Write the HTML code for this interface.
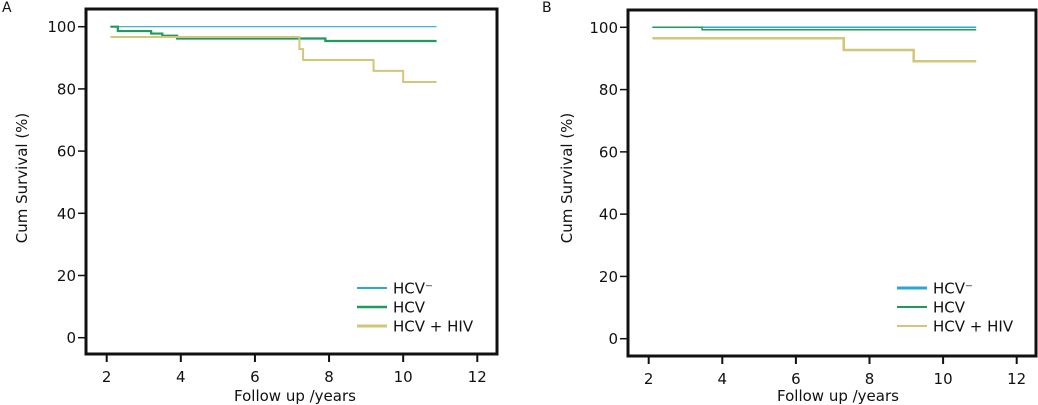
<!DOCTYPE html>
<html><head><meta charset="utf-8"><style>
html,body{margin:0;padding:0;background:#fff;}
svg{display:block;font-family:"DejaVu Sans","Liberation Sans",sans-serif;}
</style></head><body>
<svg id="c" width="1038" height="405" viewBox="0 0 1038 405"></svg>
<script>
const xTicks=[2,4,6,8,10,12];
const yTicks=[0,20,40,60,80,100];
const seriesNames=["HCV⁻","HCV","HCV + HIV"];
const colors=["#2aa7d6","#1e9a5c","#d3c67a"];
// panel A step data: [time, survival]
const aHcvNeg=[[2.1,100],[10.9,100]];
const aHcv=[[2.1,100],[2.3,98.6],[3.2,97.8],[3.5,97.1],[3.9,96.2],[7.9,95.4],[10.9,95.4]];
const aHiv=[[2.1,96.7],[7.2,92.8],[7.3,89.3],[9.2,85.8],[10.0,82.2],[10.9,82.2]];
// panel B
const bHcvNeg=[[2.1,100],[10.9,100]];
const bHcv=[[2.1,100],[3.45,99.2],[10.9,99.2]];
const bHiv=[[2.1,96.5],[7.3,92.7],[9.2,89.1],[10.9,89.1]];

const svg=document.getElementById('c');
const NS='http://www.w3.org/2000/svg';
const FS=15;
function mk(tag,attrs,parent){const e=document.createElementNS(NS,tag);for(const k in attrs)e.setAttribute(k,attrs[k]);(parent||svg).appendChild(e);return e;}

function panel(p){
  const g=mk('g',{});
  
  
  const X=v=>p.x0+(v-2)*(p.x12-p.x0)/10;
  const Y=v=>p.y0+(v)*(p.y100-p.y0)/100;
  const t=mk('text',{x:p.lx,y:12,'font-size':14,fill:'#111'},g);t.textContent=p.id;
  
  const f=mk('rect',{x:p.fl,y:p.ft,width:p.fr-p.fl,height:p.fb-p.ft,fill:'none',stroke:'#111','stroke-width':3},g);
  
  yTicks.forEach(v=>{
    const l=mk('line',{x1:p.fl-8,x2:p.fl,y1:Y(v),y2:Y(v),stroke:'#111','stroke-width':1.5},g);
    
    const tx=mk('text',{x:p.fl-10,y:Y(v)+5.5,'text-anchor':'end','font-size':FS,fill:'#111'},g);tx.textContent=v;
    
  });
  xTicks.forEach(v=>{
    const l=mk('line',{x1:X(v),x2:X(v),y1:p.fb,y2:p.fb+8,stroke:'#111','stroke-width':2},g);
    
    const tx=mk('text',{x:X(v),y:p.fb+28,'text-anchor':'middle','font-size':FS,fill:'#111'},g);tx.textContent=v;
    
  });
  const xt=mk('text',{x:p.xtx,y:401,'text-anchor':'middle','font-size':FS,fill:'#111'},g);xt.textContent='Follow up /years';
  
  const yt=mk('text',{x:0,y:0,transform:`translate(${p.ytx},178) rotate(-90)`,'text-anchor':'middle','font-size':FS,fill:'#111'},g);yt.textContent='Cum Survival (%)';
  
  p.series.forEach((s,i)=>{
    let d='M'+X(s[0][0])+','+Y(s[0][1]);
    for(let k=1;k<s.length;k++){d+=' H'+X(s[k][0])+' V'+Y(s[k][1]);}
    const path=mk('path',{d:d,fill:'none',stroke:colors[i],'stroke-width':p.widths[i]},g);
    
    
  });
  seriesNames.forEach((n,i)=>{
    const yy=288+i*19;
    const l=mk('line',{x1:p.legx,x2:p.legx+30,y1:yy,y2:yy,stroke:colors[i],'stroke-width':p.lw[i]},g);
    
    const tx=mk('text',{x:p.legx+36,y:yy+5.5,'font-size':FS,fill:'#111'},g);tx.textContent=n;
    
  });
}
panel({id:'A',lx:2,fl:86,ft:9,fr:497,fb:354,x0:106.7,x12:477.3,y0:337.7,y100:26.7,xtx:295,ytx:27,legx:357,
  series:[aHcvNeg,aHcv,aHiv],widths:[1.2,2.2,2],lw:[2,2.5,3]});
panel({id:'B',lx:542,fl:628,ft:10,fr:1036,fb:356,x0:648.7,x12:1016.7,y0:338.7,y100:27.3,xtx:838,ytx:572,legx:897,
  series:[bHcvNeg,bHcv,bHiv],widths:[1.5,1.5,2.5],lw:[3,2,2]});
</script>
</body></html>
